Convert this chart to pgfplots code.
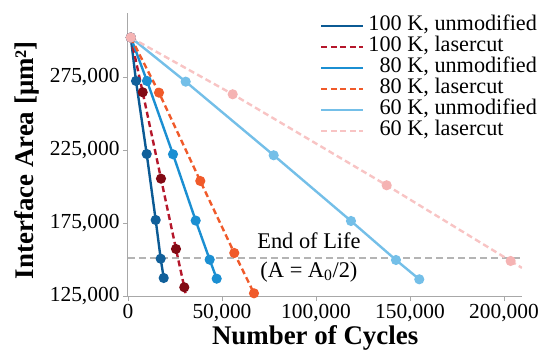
\documentclass[border=0pt]{standalone}
\usepackage{fontspec}
\setmainfont{Liberation Serif}
\usepackage{pgfplots}
\pgfplotsset{compat=1.18}
\usetikzlibrary{calc}
\definecolor{cA}{HTML}{0B5A94}
\definecolor{cAm}{HTML}{11609A}
\definecolor{cB}{HTML}{B5172B}
\definecolor{cBm}{HTML}{820A14}
\definecolor{cC}{HTML}{1B8FD2}
\definecolor{cD}{HTML}{F05A2A}
\definecolor{cE}{HTML}{74BFE8}
\definecolor{cF}{HTML}{F8C4C4}
\definecolor{cFm}{HTML}{F5B3B3}
\definecolor{axisgray}{HTML}{A8A8A8}
\definecolor{eolgray}{HTML}{B4B4B4}
\begin{document}
\begin{tikzpicture}
\begin{axis}[
  scale only axis, width=394bp, height=283bp,
  xmin=0, xmax=209600, ymin=125000, ymax=318800,
  axis lines*=left,
  axis line style={draw=axisgray, line width=1bp},
  tick style={draw=axisgray, line width=0.8bp},
  major tick length=5bp,
  tick align=outside,
  scaled ticks=false,
  xtick={0,50000,100000,150000,200000},
  xticklabels={0,{50,000},{100,000},{150,000},{200,000}},
  ytick={125000,175000,225000,275000},
  yticklabels={{125,000},{175,000},{225,000},{275,000}},
  tick label style={font=\fontsize{21.5}{24}\selectfont},
  xlabel={Number of Cycles},
  ylabel={Interface Area [μm²]},
  label style={font=\fontsize{27}{30}\selectfont\bfseries},
  xlabel style={at={(axis description cs:0.475,-0.172)}, anchor=base},
  ylabel style={at={(axis description cs:-0.241,0.48)}, anchor=base},
  legend style={at={(axis description cs:0.487,0.991)}, anchor=north west,
    draw=none, fill=none, inner sep=0pt, row sep=0pt, /tikz/column sep=4bp,
    font=\fontsize{22.3}{24}\selectfont,
    nodes={inner sep=0pt, text height=15bp, text depth=6bp}},
  legend cell align=left,
  legend image code/.code={\draw[#1] (0bp,0bp) -- (42bp,0bp);},
  every axis plot/.append style={line width=2.4bp},
]
\coordinate (o) at (rel axis cs:0,0);
\addplot[forget plot, eolgray, line width=1.5bp, dash pattern=on 7bp off 4bp] coordinates {(0,151000) (209600,151000)};
\node[anchor=base, font=\fontsize{22.5}{24}\selectfont] at (axis cs:96270,157200) {End of Life};
\node[anchor=base, font=\fontsize{22.5}{24}\selectfont] at (axis cs:96270,138000) {(A = A\textsubscript{0}/2)};

\addplot[cA, mark=*, mark size=3.8bp, mark options={fill=cAm, draw=cAm}] coordinates {
 (1500,302000) (4255,272260) (9950,222260) (14730,177060) (17390,150550) (18990,137330)};
\addlegendentry{100 K, unmodified}
\addplot[cB, dash pattern=on 6bp off 3.5bp, mark=*, mark size=3.8bp, mark options={solid, fill=cBm, draw=cBm}] coordinates {
 (1500,302000) (7820,264520) (17550,205350) (25530,157200) (29950,130970)};
\addlegendentry{100 K, lasercut}
\addplot[forget plot, cB, dash pattern=on 6bp off 3.5bp] coordinates {(29950,130970) (30900,125000)};
\addplot[cC, mark=*, mark size=3.8bp, mark options={fill=cC, draw=cC}] coordinates {
 (1500,302000) (10100,272260) (23940,222060) (36010,176650) (43460,149870) (47180,136860)};
\addlegendentry{\phantom{1}80 K, unmodified}
\addplot[cD, dash pattern=on 6bp off 3.5bp, mark=*, mark size=3.8bp, mark options={solid, fill=cD, draw=cD}] coordinates {
 (1500,302000) (16490,264250) (38460,203770) (56540,154460) (67020,126860)};
\addlegendentry{\phantom{1}80 K, lasercut}
\addplot[cE, mark=*, mark size=3.8bp, mark options={fill=cE, draw=cE}] coordinates {
 (1500,302000) (30690,271780) (77500,221370) (118620,176370) (142550,149660) (154950,136440)};
\addlegendentry{\phantom{1}60 K, unmodified}
\addplot[cF, dash pattern=on 6bp off 3.5bp, mark=*, mark size=3.8bp, mark options={solid, fill=cFm, draw=cFm}] coordinates {
 (1500,302000) (55690,263150) (137600,200820) (203560,148980)};
\addlegendentry{\phantom{1}60 K, lasercut}
\addplot[forget plot, cF, dash pattern=on 6bp off 3.5bp] coordinates {(203560,148980) (209600,144230)};
\end{axis}
\pgfresetboundingbox
\path[use as bounding box] ($(o)+(-128bp,-55bp)$) rectangle ($(o)+(420bp,296bp)$);
\end{tikzpicture}
\end{document}
